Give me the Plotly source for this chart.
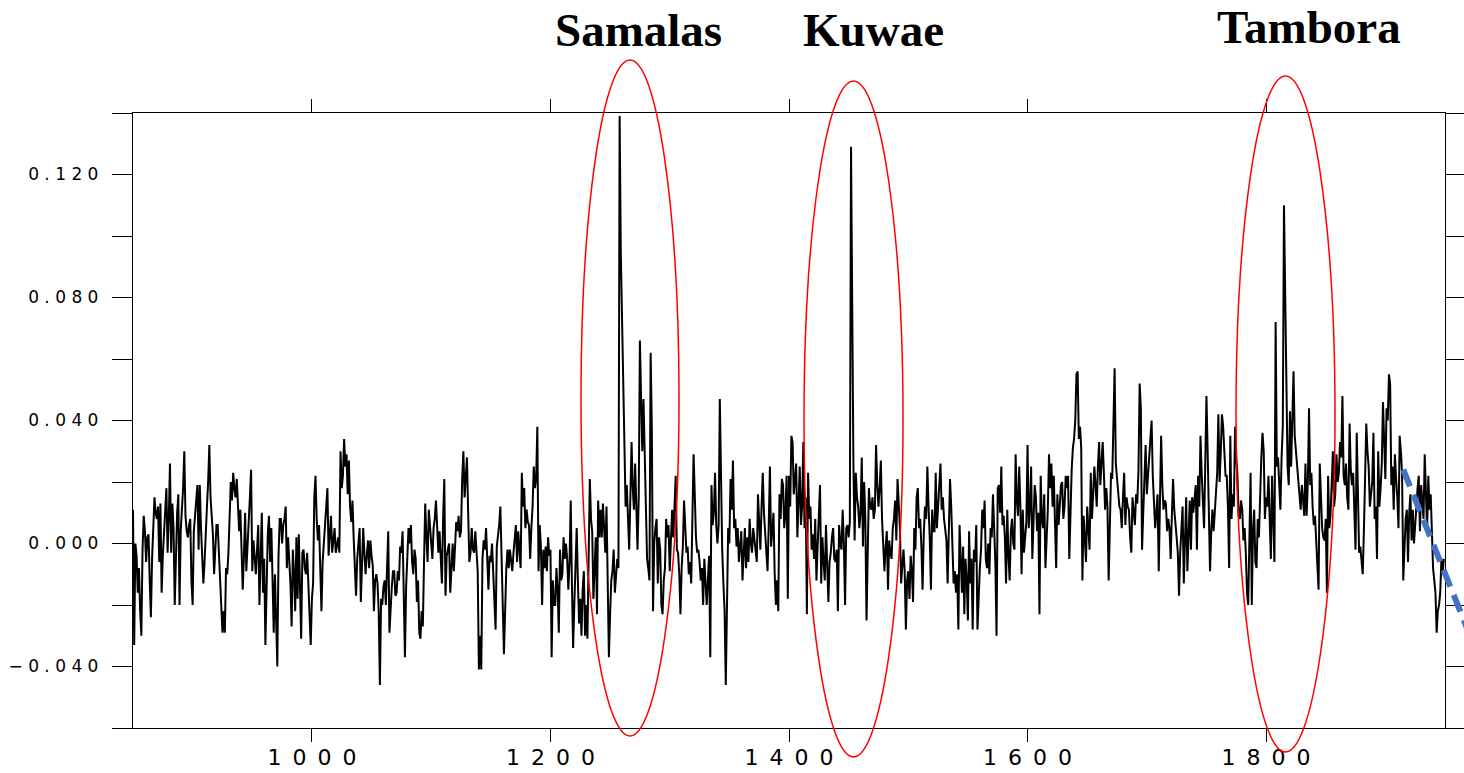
import plotly.graph_objects as go

# ---------------- data (annual values, in units of 0.001) ----------------
first_year = 850
anom_milli = [
    # 850-949
    11, -33, 0, -4, -16, -8, -22, -30, -2, 9,
    4, -6, 2, 3, -12, -24, -5, 6, 15, 10,
    8, 12, -6, 13, -16, -4, 5, 9, 18, -3,
    8, 26, -3, 13, 5, -20, -2, 10, 16, -20,
    4, 10, 18, 30, 9, 4, 2, 6, 8, -12,
    -20, 4, 10, 14, 19, -2, 19, 5, -3, -13,
    -6, 1, 12, 20, 32, 15, 10, 3, -10, 1,
    6, 6, -4, -12, -20, -29, -22, -29, -8, -10,
    -3, 8, 20, 14, 23, 18, 15, 21, 10, 4,
    11, -2, -15, -4, 10, -9, -2, 5, 15, 24,
    # 950-1049
    -9, 1, -5, -10, -2, 6, -20, -5, 10, -16,
    -5, -33, -8, 3, 9, -6, 5, -12, -29, -10,
    -22, -40, -4, 8, 8, 0, 6, 8, 12, -8,
    2, -6, -13, -27, -2, -10, -22, 2, -18, 3,
    -12, -31, -3, -2, -8, -10, -3, -14, -20, -33,
    -18, -13, 15, 22, 8, 1, 6, -8, -22, -6,
    0, 4, 11, 18, -4, 3, 9, -3, 2, 5,
    -3, 0, 2, -3, 30, 18, 22, 34, 25, 29,
    16, 27, 12, 7, 14, 2, -8, -17, -5, 0,
    5, -19, -4, 5, -3, -10, -4, 1, -8, 1,
    # 1050-1149
    -4, -7, -22, -12, -10, -13, -22, -46, -18, -20,
    -14, -12, -20, -6, 4, -29, -20, -14, -9, -9,
    -17, -16, -9, -12, -1, -3, 4, -20, -37, -14,
    -2, 5, 0, 6, -6, -10, -2, -5, -19, -12,
    -29, -31, -22, -27, -6, 13, 2, -6, 11, 6,
    -2, -5, 5, 8, 14, 2, -3, 4, -3, -13,
    8, 21, -17, -4, -2, 0, -16, -8, 0, -9,
    -2, 7, 4, 9, 2, 4, 21, 30, 15, 22,
    28, 10, -6, -3, 5, -2, -3, 4, -5, -9,
    -41, -30, -41, -5, 1, -2, 5, -9, -15, -4,
    # 1150-1249
    -6, 0, -10, -18, -28, -1, 2, 6, 12, -9,
    -20, -36, -20, -8, -2, -8, -2, -5, -9, -3,
    2, 6, -6, 4, -2, -8, 23, 12, 18, 5,
    11, 7, 6, -5, 5, 12, 25, 18, 21, 38,
    -9, 6, -1, -20, -2, -8, -1, -9, 2, -4,
    -2, -37, -12, -20, -20, -8, -15, -29, -2, -12,
    -10, 2, -5, 0, -5, -15, -6, 14, -13, -34,
    -20, -10, 5, -12, -26, -18, -30, -15, -9, -30,
    -20, -31, 4, 21, 8, 4, -18, -6, 2, -23,
    14, 2, 11, 2, 13, 5, -3, 12, -15, -37,
    # 1250-1349
    -23, -12, -9, -2, -16, -10, -5, -8, 139, 94,
    74, 52, 39, 12, 19, 8, -2, 15, 33, 18,
    11, 26, 10, -2, 15, 66, 47, 30, 47, 26,
    10, -5, -8, -12, 62, 37, -22, 0, 5, 8,
    -13, 2, -2, -20, -23, -12, -8, 8, 2, 6,
    -9, 2, 11, 2, 10, 22, -2, -3, -10, -23,
    -8, -1, 14, 5, -3, -1, -10, -6, -13, 8,
    29, 16, 2, -3, -2, -6, -12, -8, -20, -5,
    -12, -20, -12, -4, -37, 19, 6, 10, 23, 6,
    0, 6, 47, 13, -2, -13, -22, -46, -20, 5,
    # 1350-1449
    0, 21, 11, 27, 5, 8, -1, 5, -6, -2,
    4, -12, -2, 5, -8, 2, -6, 8, 0, -3,
    5, 1, -3, -6, 16, 5, -2, 12, 23, 10,
    2, -2, -9, 6, 25, -1, 5, 10, -10, -20,
    -12, -22, 16, 8, 21, 19, 5, 10, 22, -18,
    22, 12, 35, 33, 16, 20, 26, 2, 15, 25,
    6, 12, 33, 5, 15, -23, 23, 8, 12, -2,
    3, -5, 8, -12, -1, 10, 19, -13, 2, -6,
    -12, 6, -4, -19, -6, -3, 2, 5, -5, -6,
    -2, -22, 6, 0, -2, 11, 0, -20, 5, 6,
    # 1450-1549
    2, 7, 129, 68, 26, 1, 23, 15, 12, 5,
    10, 28, -1, 20, 8, -25, 6, 18, 12, 11,
    15, 8, 11, 32, 19, 12, 18, 27, 8, -1,
    -9, -1, 4, -15, 1, -3, -5, 5, 8, 14,
    1, 21, 12, 5, -13, -6, -2, -9, -28, -12,
    -9, -18, -4, -9, -19, 5, -2, 15, 18, 5,
    8, -1, -15, 3, 12, 8, 25, 12, 2, -15,
    11, 4, 4, 23, 5, 12, 19, 26, 11, 15,
    8, 5, 1, -13, 8, 21, 12, -2, -13, -9,
    -16, -10, -28, 6, -8, -16, -1, -23, -5, -12,
    # 1550-1649
    -25, 4, -13, -5, -28, -2, -6, 6, -28, -15,
    -8, -2, 11, 5, 14, -5, -8, 0, -10, 5,
    2, 16, 5, -6, -30, 18, 19, 10, 25, 6,
    9, 2, -13, 11, -4, -12, 4, 8, 0, -2,
    29, 14, 9, 25, 12, -10, 11, -3, 2, 7,
    32, 5, 12, 25, -5, 8, 19, 15, 4, 10,
    -23, 22, 8, 5, 16, -8, 3, 11, 29, 18,
    26, 12, 22, 6, -8, 16, 6, 12, 19, 20,
    8, 12, 22, 18, 22, -5, 16, 24, 31, 34,
    40, 55, 56, 34, 38, 31, -12, 9, 2, -6,
    # 1650-1749
    12, 5, -2, 23, 8, 16, 25, 19, 12, 25,
    33, 19, 26, 33, 23, 11, 18, 12, -12, 8,
    23, 21, 35, 57, 26, 22, 16, 12, 11, 5,
    15, 23, 6, 15, 12, 11, 2, -3, 15, 9,
    6, 16, 13, 24, 52, 44, -2, 10, 19, 32,
    16, 22, 29, 35, 40, 22, 12, 5, 10, 16,
    -9, 20, 35, 19, 11, 14, 13, 4, 8, 5,
    -5, 9, 21, 11, 5, 2, -3, -17, -3, 6,
    12, -13, 4, 15, -9, 5, 14, -2, 15, 10,
    16, 19, -2, 22, 12, 35, 23, 14, 5, 26,
    # 1750-1849
    48, 30, 11, -9, 4, 11, 4, 11, 16, 23,
    42, 20, 30, 42, 38, 30, 22, 22, 12, -8,
    35, 8, 16, 12, 38, 28, 22, 9, 8, 14,
    11, 1, 5, -3, -16, -20, 2, 23, -20, 4,
    11, -6, -8, 8, 2, 19, 28, 36, 30, 8,
    15, 12, 22, 8, -5, 22, 8, -6, 72, 25,
    28, 18, 11, 28, 38, 110, 85, 54, 25, 19,
    43, 25, 40, 56, 35, 30, 25, 22, 15, 11,
    19, 12, 9, 26, 9, 20, 44, 19, 23, 12,
    6, 9, 2, -6, -15, 26, 12, 5, 2, 1,
    # 1850-1949
    8, -16, 22, 5, 9, 22, 30, 12, 16, 29,
    20, 23, 33, 28, 48, 22, 19, 26, 15, 11,
    39, 24, 19, 23, 10, -2, 36, 8, -3, -1,
    -6, -10, 4, 29, 39, 30, 25, 12, 16, 20,
    36, 8, 12, -5, 30, 12, 18, 26, 46, 30,
    21, 44, 40, 55, 52, 19, 25, 11, 29, 21,
    15, 5, 35, 30, 23, -12, -2, 8, 11, -6,
    10, 16, 1, 11, 0, 7, 14, 18, 22, 4,
    19, 12, 8, 29, 12, 4, 22, 11, 16, 5,
    -8, -12, -16, -29, -22, -20, -16, -5, -10, -5,
]
years = list(range(first_year, first_year + len(anom_milli)))
anomaly = [v / 1000.0 for v in anom_milli]

x_range = [850, 1950]
y_range = [-0.06, 0.14]
x_tickvals = [1000, 1200, 1400, 1600, 1800]
x_ticklabels = ["1000", "1200", "1400", "1600", "1800"]
y_tickvals = [-0.06, -0.04, -0.02, 0.0, 0.02, 0.04, 0.06, 0.08, 0.10, 0.12, 0.14]
y_ticklabels = ["", "\u22120.040", "", "0.000", "", "0.040", "", "0.080", "", "0.120", ""]

eruption_names = ["Samalas", "Kuwae", "Tambora"]
eruption_label_x = [1274, 1471, 1836]
ellipse_x0 = [1225.6, 1412.6, 1774.8]
ellipse_x1 = [1307.8, 1495.6, 1857.8]
ellipse_y0 = [-0.0626, -0.0694, -0.0678]
ellipse_y1 = [0.1572, 0.1504, 0.1520]

trend_x = [1915, 1970]
trend_y = [0.024, -0.029]

# ---------------- layout geometry ----------------
W, H = 1464, 773
ML = 133
plot_w = W - ML
x_dom = [0.0, 1312 / plot_w]
y_dom = [45 / H, 660 / H]

x_full = (x_range[1] - x_range[0]) / (x_dom[1] - x_dom[0])
x2_range = [x_range[0] - x_dom[0] * x_full, x_range[0] + (1 - x_dom[0]) * x_full]
y_full = (y_range[1] - y_range[0]) / (y_dom[1] - y_dom[0])
y2_lo = y_range[0] - y_dom[0] * y_full
y2_range = [y2_lo, y2_lo + y_full]


def spaced(s, sep):
    return sep.join(list(s))


x_ticktext = [spaced(t, "\u2002") for t in x_ticklabels]
y_ticktext = []
for t in y_ticklabels:
    if t.startswith("\u2212"):
        y_ticktext.append("\u2212 " + spaced(t[1:], " "))
    else:
        y_ticktext.append(spaced(t, " "))

fig = go.Figure()
fig.add_trace(go.Scatter(
    x=years, y=anomaly, mode="lines",
    line=dict(color="black", width=2),
    xaxis="x", yaxis="y", showlegend=False, hoverinfo="skip",
))
fig.add_trace(go.Scatter(
    x=trend_x, y=trend_y, mode="lines",
    line=dict(color="#4472C4", width=6, dash="18px,9px"),
    xaxis="x2", yaxis="y2", showlegend=False, hoverinfo="skip",
))

for i in range(len(eruption_names)):
    fig.add_shape(
        type="circle", xref="x2", yref="y2",
        x0=ellipse_x0[i], x1=ellipse_x1[i], y0=ellipse_y0[i], y1=ellipse_y1[i],
        line=dict(color="#FF0000", width=1.5), layer="above",
    )

label_y_px = [30, 30, 27]
for i, name in enumerate(eruption_names):
    fig.add_annotation(
        x=eruption_label_x[i], xref="x", y=1 - label_y_px[i] / H, yref="paper",
        text="<b>" + name + "</b>", showarrow=False,
        font=dict(family="Liberation Serif", size=47, color="black"),
        xanchor="center", yanchor="middle",
    )

axis_common = dict(
    showline=True, linecolor="black", linewidth=1.3, mirror="allticks",
    ticks="outside", tickcolor="black", tickwidth=1.3,
    showgrid=False, zeroline=False, automargin=False,
)

fig.update_layout(
    width=W, height=H,
    margin=dict(l=ML, r=0, t=0, b=0, pad=0),
    paper_bgcolor="white", plot_bgcolor="rgba(0,0,0,0)",
    template="none",
    showlegend=False,
    xaxis=dict(
        domain=x_dom, range=x_range, anchor="y",
        tickmode="array", tickvals=x_tickvals, ticktext=x_ticktext,
        ticklen=13, ticklabelstandoff=-4,
        tickfont=dict(family="DejaVu Sans", size=22, color="black"),
        **axis_common,
    ),
    yaxis=dict(
        domain=y_dom, range=y_range, anchor="x",
        tickmode="array", tickvals=y_tickvals, ticktext=y_ticktext,
        ticklen=20, ticklabelstandoff=10,
        tickfont=dict(family="DejaVu Sans", size=17, color="black"),
        **axis_common,
    ),
    xaxis2=dict(domain=[0, 1], range=x2_range, anchor="y2", visible=False,
                showgrid=False, zeroline=False),
    yaxis2=dict(domain=[0, 1], range=y2_range, anchor="x2", visible=False,
                showgrid=False, zeroline=False),
)

fig.write_html("out.html")
